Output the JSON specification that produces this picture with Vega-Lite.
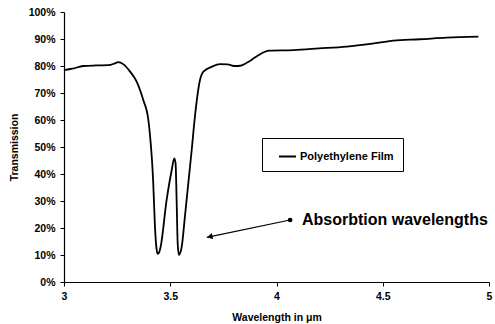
{
  "$schema": "https://vega.github.io/schema/vega-lite/v6.json",
  "width": 425,
  "height": 270,
  "autosize": {"type": "none"},
  "padding": {"left": 64, "top": 12, "right": 6, "bottom": 42},
  "background": "white",
  "config": {
    "view": {"stroke": null},
    "font": "Liberation Sans",
    "axis": {
      "grid": false,
      "domainColor": "black",
      "domainWidth": 1.2,
      "tickColor": "black",
      "tickSize": 4,
      "labelColor": "black",
      "labelFont": "Liberation Sans",
      "labelFontWeight": "bold",
      "labelFontSize": 10.5,
      "labelOverlap": false,
      "titleFont": "Liberation Sans",
      "titleFontWeight": "bold",
      "titleFontSize": 10.5,
      "titleColor": "black"
    }
  },
  "datasets": {
    "curve": [
      {"wl": 3.00, "t": 0.785, "series": "Polyethylene Film"},
      {"wl": 3.04, "t": 0.79, "series": "Polyethylene Film"},
      {"wl": 3.09, "t": 0.80, "series": "Polyethylene Film"},
      {"wl": 3.15, "t": 0.802, "series": "Polyethylene Film"},
      {"wl": 3.21, "t": 0.803, "series": "Polyethylene Film"},
      {"wl": 3.24, "t": 0.81, "series": "Polyethylene Film"},
      {"wl": 3.255, "t": 0.814, "series": "Polyethylene Film"},
      {"wl": 3.28, "t": 0.806, "series": "Polyethylene Film"},
      {"wl": 3.311, "t": 0.779, "series": "Polyethylene Film"},
      {"wl": 3.342, "t": 0.742, "series": "Polyethylene Film"},
      {"wl": 3.373, "t": 0.674, "series": "Polyethylene Film"},
      {"wl": 3.397, "t": 0.60, "series": "Polyethylene Film"},
      {"wl": 3.408, "t": 0.514, "series": "Polyethylene Film"},
      {"wl": 3.414, "t": 0.452, "series": "Polyethylene Film"},
      {"wl": 3.42, "t": 0.366, "series": "Polyethylene Film"},
      {"wl": 3.428, "t": 0.205, "series": "Polyethylene Film"},
      {"wl": 3.436, "t": 0.12, "series": "Polyethylene Film"},
      {"wl": 3.441, "t": 0.104, "series": "Polyethylene Film"},
      {"wl": 3.448, "t": 0.11, "series": "Polyethylene Film"},
      {"wl": 3.455, "t": 0.131, "series": "Polyethylene Film"},
      {"wl": 3.483, "t": 0.304, "series": "Polyethylene Film"},
      {"wl": 3.507, "t": 0.415, "series": "Polyethylene Film"},
      {"wl": 3.519, "t": 0.458, "series": "Polyethylene Film"},
      {"wl": 3.525, "t": 0.44, "series": "Polyethylene Film"},
      {"wl": 3.53, "t": 0.304, "series": "Polyethylene Film"},
      {"wl": 3.535, "t": 0.143, "series": "Polyethylene Film"},
      {"wl": 3.541, "t": 0.10, "series": "Polyethylene Film"},
      {"wl": 3.548, "t": 0.11, "series": "Polyethylene Film"},
      {"wl": 3.554, "t": 0.131, "series": "Polyethylene Film"},
      {"wl": 3.569, "t": 0.242, "series": "Polyethylene Film"},
      {"wl": 3.585, "t": 0.366, "series": "Polyethylene Film"},
      {"wl": 3.601, "t": 0.489, "series": "Polyethylene Film"},
      {"wl": 3.616, "t": 0.612, "series": "Polyethylene Film"},
      {"wl": 3.64, "t": 0.748, "series": "Polyethylene Film"},
      {"wl": 3.656, "t": 0.779, "series": "Polyethylene Film"},
      {"wl": 3.695, "t": 0.797, "series": "Polyethylene Film"},
      {"wl": 3.734, "t": 0.807, "series": "Polyethylene Film"},
      {"wl": 3.77, "t": 0.806, "series": "Polyethylene Film"},
      {"wl": 3.80, "t": 0.80, "series": "Polyethylene Film"},
      {"wl": 3.83, "t": 0.801, "series": "Polyethylene Film"},
      {"wl": 3.86, "t": 0.812, "series": "Polyethylene Film"},
      {"wl": 3.9, "t": 0.832, "series": "Polyethylene Film"},
      {"wl": 3.935, "t": 0.849, "series": "Polyethylene Film"},
      {"wl": 3.965, "t": 0.857, "series": "Polyethylene Film"},
      {"wl": 4.08, "t": 0.859, "series": "Polyethylene Film"},
      {"wl": 4.2, "t": 0.865, "series": "Polyethylene Film"},
      {"wl": 4.33, "t": 0.872, "series": "Polyethylene Film"},
      {"wl": 4.45, "t": 0.883, "series": "Polyethylene Film"},
      {"wl": 4.55, "t": 0.894, "series": "Polyethylene Film"},
      {"wl": 4.675, "t": 0.899, "series": "Polyethylene Film"},
      {"wl": 4.8, "t": 0.905, "series": "Polyethylene Film"},
      {"wl": 4.95, "t": 0.909, "series": "Polyethylene Film"}
    ],
    "arrow": [
      {"wl": 3.672, "t": 0.1656, "wl2": 4.064, "t2": 0.2296}
    ],
    "head": [
      {"wl": 3.686, "t": 0.168}
    ],
    "dot": [
      {"wl": 4.064, "t": 0.2296}
    ],
    "note": [
      {"wl": 4.12, "t": 0.211, "label": "Absorbtion wavelengths"}
    ]
  },
  "encoding": {
    "x": {
      "field": "wl", "type": "quantitative",
      "scale": {"domain": [3, 5], "nice": false},
      "axis": {"values": [3, 3.5, 4, 4.5, 5], "format": ".1~f", "title": "Wavelength in μm", "labelPadding": 5, "titlePadding": 11, "labelFlush": false}
    },
    "y": {
      "field": "t", "type": "quantitative",
      "scale": {"domain": [0, 1], "nice": false},
      "axis": {"values": [0, 0.1, 0.2, 0.3, 0.4, 0.5, 0.6, 0.7, 0.8, 0.9, 1], "format": ".0%", "title": "Transmission", "labelPadding": 5, "titlePadding": 9, "labelOverlap": false}
    }
  },
  "layer": [
    {
      "data": {"name": "curve"},
      "mark": {"type": "line", "strokeWidth": 1.8, "interpolate": "monotone"},
      "encoding": {
        "color": {
          "field": "series", "type": "nominal",
          "scale": {"range": ["black"]},
          "legend": {
            "title": null,
            "orient": "none",
            "legendX": 198,
            "legendY": 126,
            "symbolType": "stroke",
            "symbolSize": 289,
            "symbolStrokeWidth": 2,
            "symbolOffset": 7,
            "labelFont": "Liberation Sans",
            "labelFontWeight": "bold",
            "labelFontSize": 11,
            "labelColor": "black",
            "labelOffset": 3,
            "strokeColor": "black",
            "fillColor": "white",
            "padding": 9,
            "cornerRadius": 0
          }
        }
      }
    },
    {
      "data": {"name": "arrow"},
      "mark": {"type": "rule", "color": "black", "strokeWidth": 1.2},
      "encoding": {
        "x2": {"field": "wl2"},
        "y2": {"field": "t2"}
      }
    },
    {
      "data": {"name": "head"},
      "mark": {"type": "point", "shape": "triangle-left", "filled": true, "color": "black", "size": 40, "angle": 348, "opacity": 1},
      "encoding": {}
    },
    {
      "data": {"name": "dot"},
      "mark": {"type": "point", "shape": "circle", "filled": true, "color": "black", "size": 22, "opacity": 1},
      "encoding": {}
    },
    {
      "data": {"name": "note"},
      "mark": {"type": "text", "align": "left", "baseline": "alphabetic", "font": "Liberation Sans", "fontWeight": "bold", "fontSize": 16, "color": "black"},
      "encoding": {
        "text": {"field": "label"}
      }
    }
  ]
}
